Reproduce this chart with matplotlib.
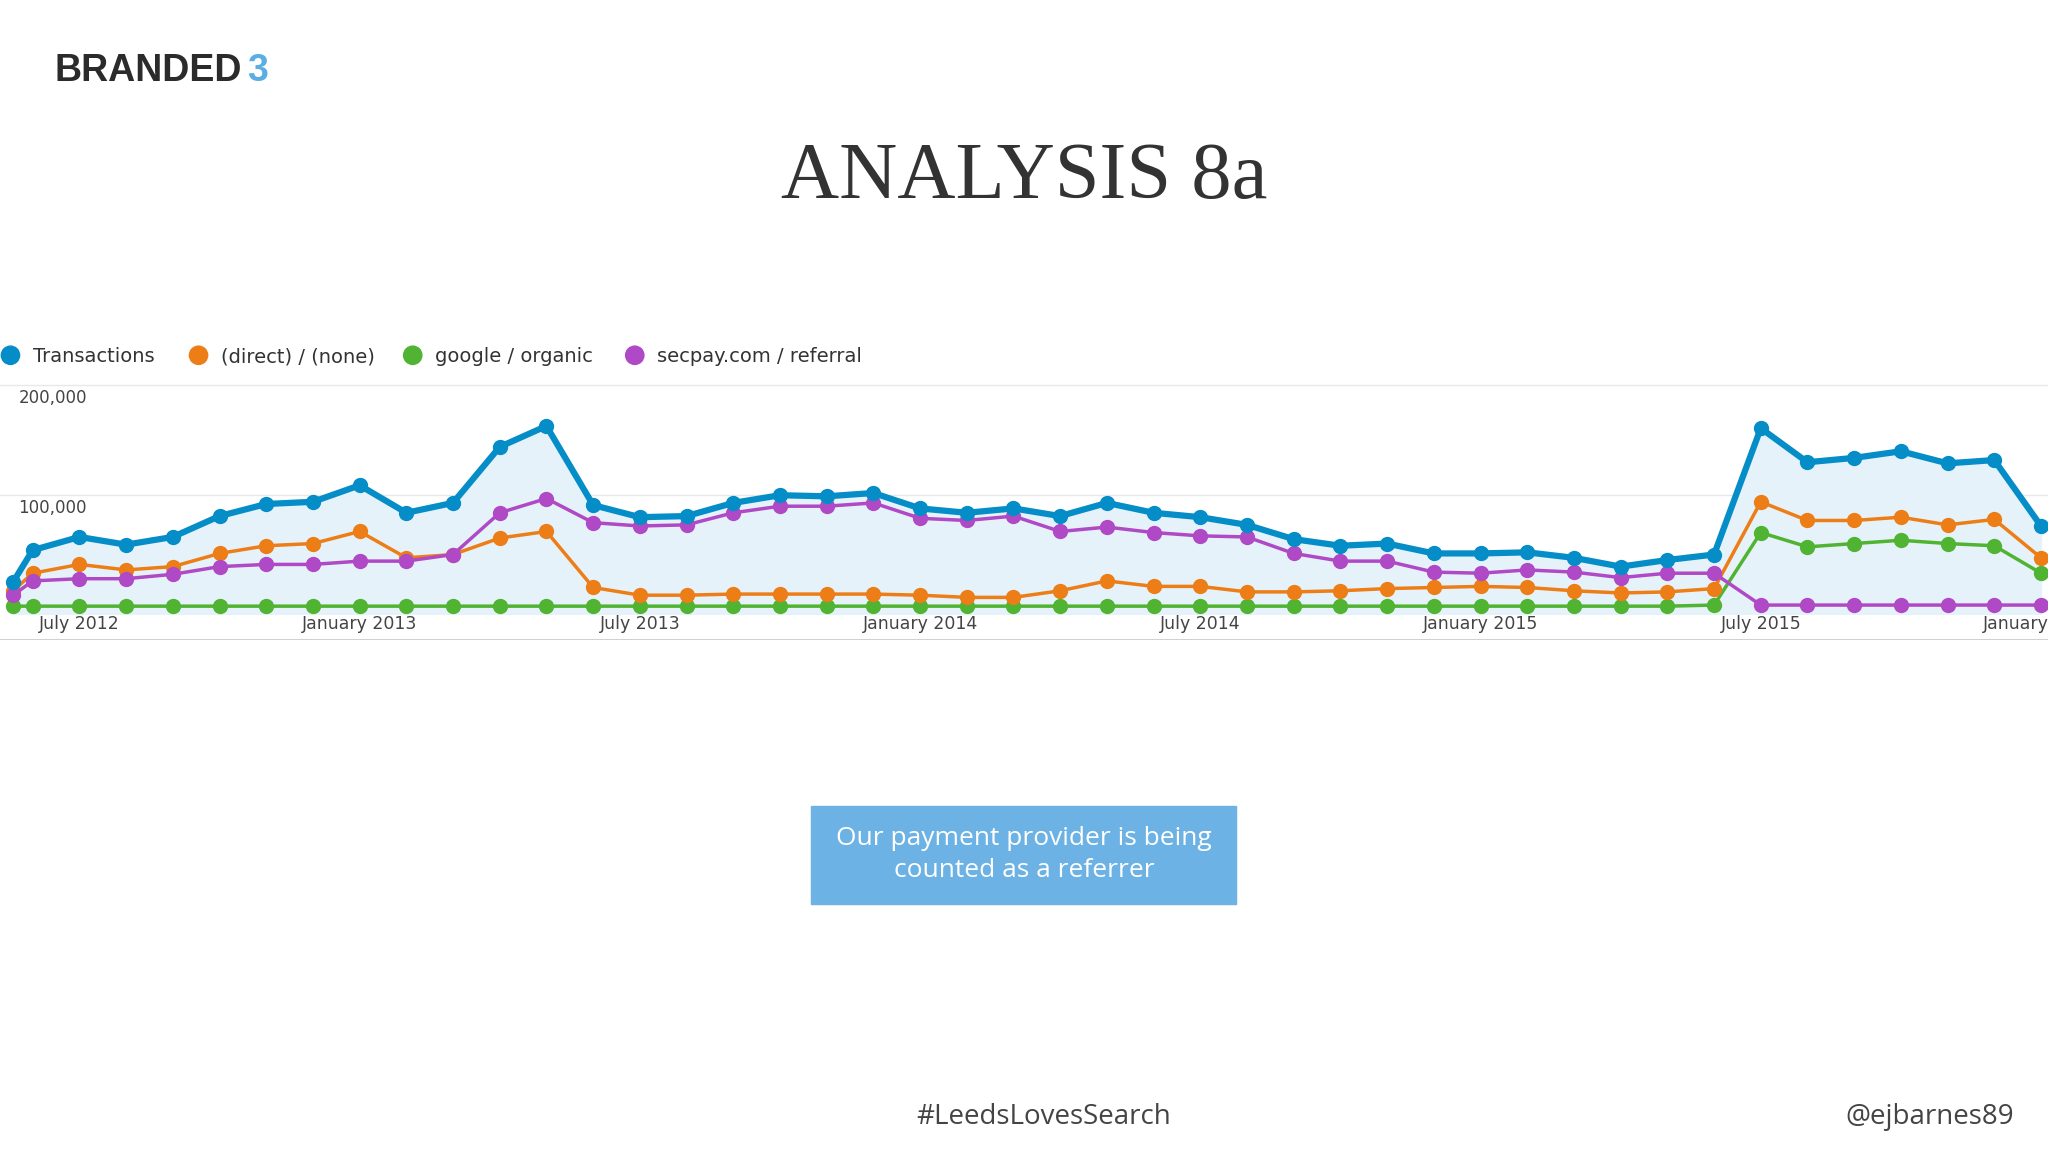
import matplotlib
matplotlib.use("Agg")
import matplotlib.pyplot as plt
import numpy as np

# month index relative to July 2012 (first point is a partial month)
months = [-1.42] + list(range(-1, 43))

transactions = [29, 58, 70, 63, 70, 89, 100, 102, 117, 92, 101, 152, 171, 99, 88, 89,
                101, 108, 107, 110, 96, 92, 96, 89, 101, 92, 88, 81, 68, 62, 64, 55,
                55, 56, 51, 43, 49, 54, 169, 138, 142, 148, 137, 140, 80]
direct = [21, 37, 45, 40, 43, 55, 62, 64, 75, 51, 54, 69, 75, 24, 17, 17, 18, 18, 18,
          18, 17, 15, 15, 21, 30, 25, 25, 20, 20, 21, 23, 24, 25, 24, 21, 19, 20, 23,
          102, 85, 85, 88, 81, 86, 51]
organic = [7] * 37 + [8, 74, 61, 64, 67, 64, 62, 37]
secpay = [17, 30, 32, 32, 36, 43, 45, 45, 48, 48, 54, 92, 105, 83, 80, 81, 92, 98, 98,
          101, 87, 85, 89, 75, 79, 74, 71, 70, 55, 48, 48, 38, 37, 40, 38, 33, 37, 37,
          8, 8, 8, 8, 8, 8, 8]

series_names = ["Transactions", "(direct) / (none)", "google / organic", "secpay.com / referral"]
series_colors = ["#058dc7", "#ed7e17", "#50b432", "#af49c5"]
tick_months = [0, 6, 12, 18, 24, 30, 36, 42]
tick_labels = ["July 2012", "January 2013", "July 2013", "January 2014", "July 2014",
               "January 2015", "July 2015", "January 2016"]

W, H = 1568.0, 882.0  # layout units of the slide
fig = plt.figure(figsize=(20.48, 11.52), dpi=100)
fig.patch.set_facecolor("white")

def fx(x):
    return x / W

def fy(y):
    return 1 - y / H

ax = fig.add_axes([0, fy(490), 1, fy(290) - fy(490)])
ax.set_xlim(-1.70, 42.15)
ax.set_ylim(-23.8, 214)
ax.set_facecolor("white")
for s in ax.spines.values():
    s.set_visible(False)
ax.set_xticks([])
ax.set_yticks([])
for v in (108, 208):
    ax.axhline(v, color="#e8e8e8", lw=1, zorder=0)
ax.axhline(-23.8, color="#cccccc", lw=2, zorder=0)

x = np.array(months, dtype=float)
ax.fill_between(x, transactions, 0, color="#e6f2fa", zorder=1)
data = [transactions, direct, organic, secpay]
widths = [4.5, 2.5, 2.5, 2.5]
for vals, c, lw, z in zip(data, series_colors, widths, [5, 3, 2, 4]):
    ax.plot(x, vals, color=c, lw=lw, marker="o", ms=10, zorder=z)

ax.text(0.009, 205, "200,000", fontsize=12, color="#444", va="top",
        transform=ax.get_yaxis_transform())
ax.text(0.009, 105, "100,000", fontsize=12, color="#444", va="top",
        transform=ax.get_yaxis_transform())
for m, lab in zip(tick_months, tick_labels):
    ax.text(m, -9, lab, fontsize=12.5, color="#444", ha="center", va="center",
            clip_on=True, zorder=6)

# legend
lx = [8, 152, 316, 486]
for px, name, c in zip(lx, series_names, series_colors):
    fig.patches.append(matplotlib.patches.Ellipse((fx(px), fy(272)), 14 / W,
                                                   14 / H, color=c,
                                                   transform=fig.transFigure))
    fig.text(fx(px + 17), fy(273), name, fontsize=14, color="#333", va="center")

# slide furniture
fig.text(fx(42), fy(54), "BRANDED", fontsize=27, fontweight="bold", color="#2b2b2b",
         va="center", family="Liberation Sans")
fig.text(fx(189), fy(54), "3", fontsize=27, fontweight="bold", color="#5aaee3",
         va="center", family="Liberation Sans")
fig.text(0.5, fy(137), "ANALYSIS 8a", fontsize=58, color="#333", ha="center",
         va="center", family="Liberation Serif")

box = matplotlib.patches.Rectangle((fx(621), fy(692)), fx(946 - 621), fy(617) - fy(692),
                                   color="#6cb2e4", transform=fig.transFigure)
fig.patches.append(box)
fig.text(fx(784), fy(654), "Our payment provider is being\ncounted as a referrer",
         fontsize=19, color="white", ha="center", va="center", linespacing=1.35,
         family="Open Sans")

fig.text(fx(799), fy(855), "#LeedsLovesSearch", fontsize=20, color="#444", ha="center",
         va="center", family="Open Sans")
fig.text(fx(1542), fy(855), "@ejbarnes89", fontsize=20, color="#444", ha="right",
         va="center", family="Open Sans")

fig.savefig("out.png", dpi=100, facecolor="white")
